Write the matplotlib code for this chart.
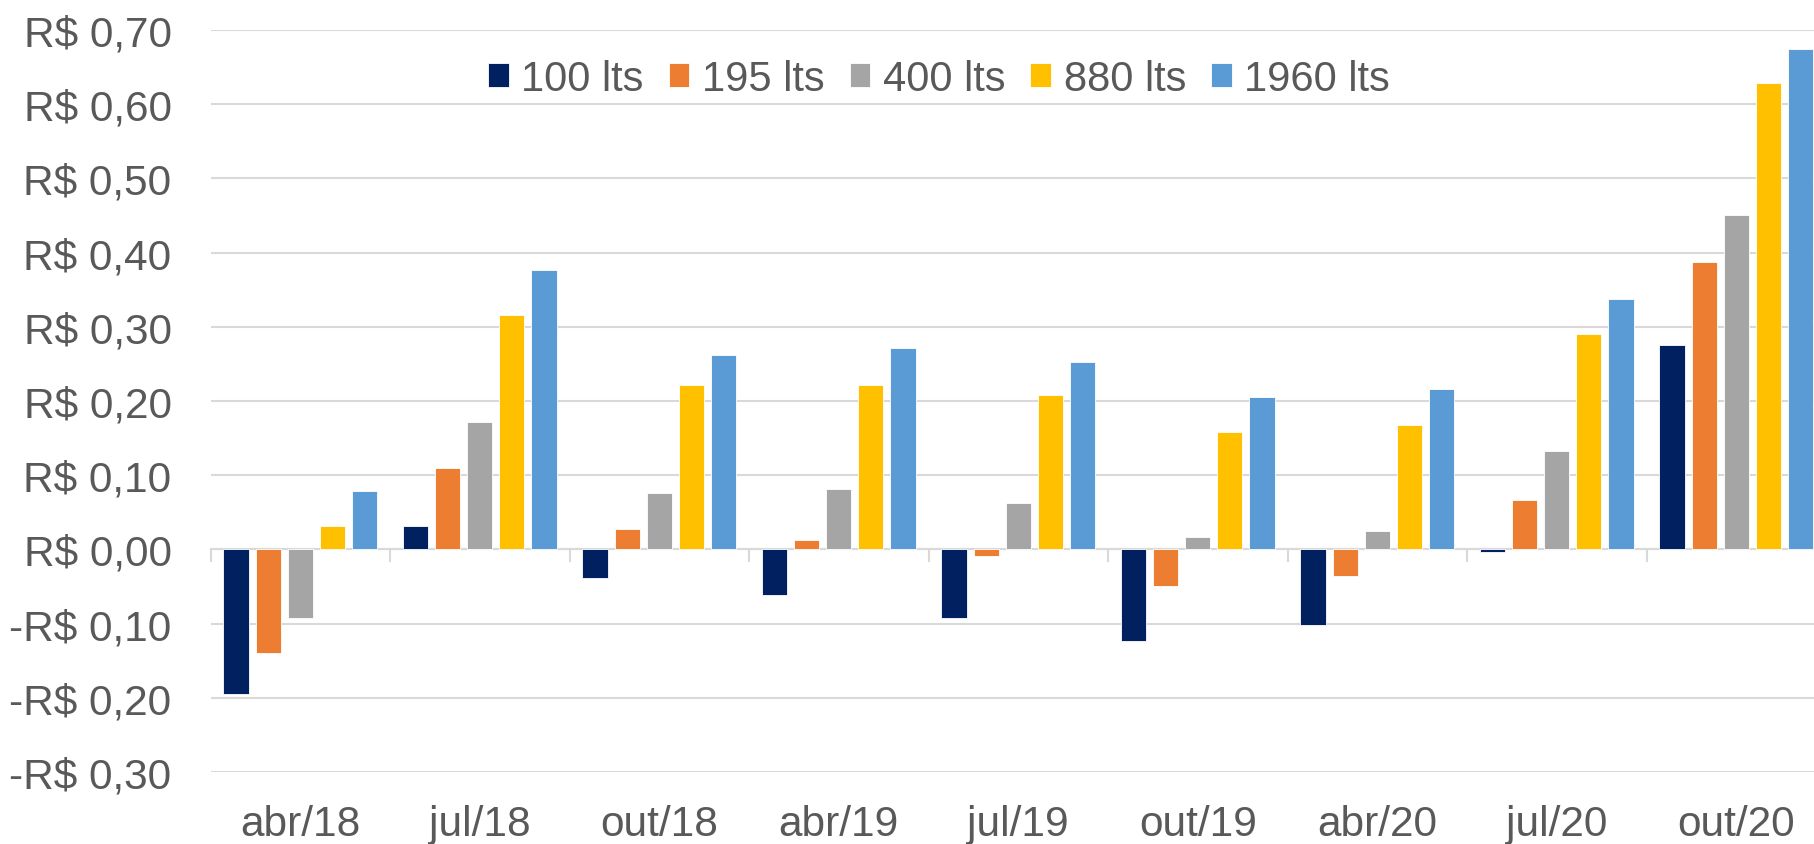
import matplotlib
matplotlib.use("Agg")
import matplotlib.pyplot as plt
from matplotlib.ticker import FuncFormatter, MultipleLocator
import numpy as np

plt.rcParams['font.family'] = ['Liberation Sans', 'DejaVu Sans']

categories = ["abr/18", "jul/18", "out/18", "abr/19", "jul/19", "out/19", "abr/20", "jul/20", "out/20"]
series_names = ["100 lts", "195 lts", "400 lts", "880 lts", "1960 lts"]
s100 = [-0.195, 0.031, -0.038, -0.062, -0.092, -0.123, -0.102, -0.004, 0.276]
s195 = [-0.139, 0.110, 0.027, 0.013, -0.009, -0.049, -0.036, 0.067, 0.388]
s400 = [-0.092, 0.172, 0.076, 0.082, 0.063, 0.017, 0.025, 0.133, 0.451]
s880 = [0.031, 0.316, 0.221, 0.222, 0.208, 0.158, 0.167, 0.290, 0.629]
s1960 = [0.079, 0.376, 0.262, 0.272, 0.253, 0.206, 0.216, 0.337, 0.674]
colors = ["#002060", "#ED7D31", "#A5A5A5", "#FFC000", "#5B9BD5"]

series = [s100, s195, s400, s880, s1960]

W, H = 1814, 845
fig = plt.figure(figsize=(W / 100, H / 100), dpi=100)
left = 210.5 / W
right = 1826 / W
top = 1 - 31 / H
bottom = 1 - 773 / H
ax = fig.add_axes([left, bottom, right - left, top - bottom])

x = np.arange(len(categories))
slot = 0.179
bw = 0.14
for i, (vals, c, name) in enumerate(zip(series, colors, series_names)):
    ax.bar(x + (i - 2) * slot, vals, width=bw, color=c, label=name,
           edgecolor='white', linewidth=0.6, zorder=3)

ax.set_xlim(-0.5, len(categories) - 0.5)
ax.set_ylim(-0.30, 0.70)
ax.yaxis.set_major_locator(MultipleLocator(0.10))

def fmt(v, pos):
    s = f"R$ {abs(v):.2f}".replace('.', ',')
    return ("-" + s) if v < -1e-9 else s

ax.yaxis.set_major_formatter(FuncFormatter(fmt))
ax.grid(axis='y', color='#D9D9D9', linewidth=1.5, zorder=0)
ax.set_axisbelow(True)
for sp in ax.spines.values():
    sp.set_visible(False)

ax.set_xticks(x)
ax.set_xticklabels(categories)
ax.tick_params(axis='both', length=0, labelsize=30.5, colors='#595959')
ax.tick_params(axis='y', pad=28)
ax.tick_params(axis='x', pad=23)

# zero axis line and category boundary tick marks
ax.axhline(0, color='#D9D9D9', linewidth=1.5, zorder=2)
for b in np.arange(-0.5, len(categories), 1.0):
    ax.plot([b, b], [0, -0.016], color='#D9D9D9', linewidth=1.5, zorder=2, clip_on=False)

leg = ax.legend(loc='center', bbox_to_anchor=(0.451, 0.934), ncol=5, frameon=False,
                fontsize=30, handlelength=0.5, handleheight=0.5, handletextpad=0.3,
                columnspacing=0.6, borderpad=0)
for t in leg.get_texts():
    t.set_color('#595959')

fig.savefig("out.png", dpi=100)
